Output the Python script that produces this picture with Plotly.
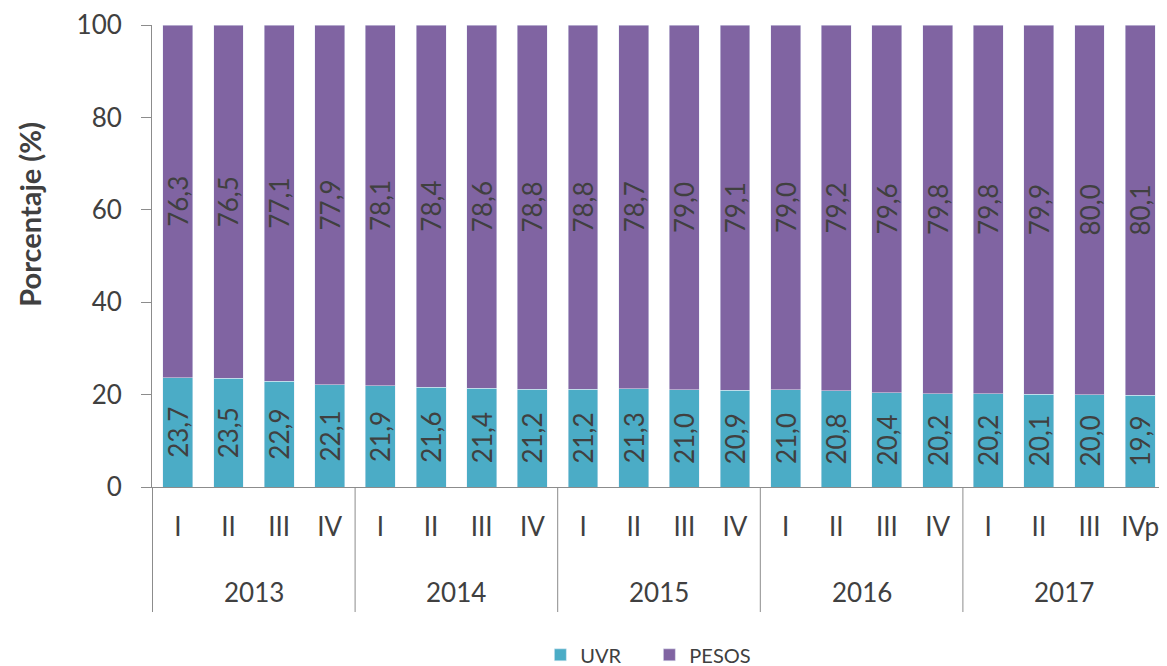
import plotly.graph_objects as go

years = ["2013", "2014", "2015", "2016", "2017"]
quarters = ["I", "II", "III", "IV", "I", "II", "III", "IV", "I", "II", "III", "IV",
            "I", "II", "III", "IV", "I", "II", "III", "IVp"]
categories = [f"{years[i // 4]}-{q}" for i, q in enumerate(quarters)]
uvr = [23.7, 23.5, 22.9, 22.1, 21.9, 21.6, 21.4, 21.2, 21.2, 21.3, 21.0, 20.9,
       21.0, 20.8, 20.4, 20.2, 20.2, 20.1, 20.0, 19.9]
pesos = [76.3, 76.5, 77.1, 77.9, 78.1, 78.4, 78.6, 78.8, 78.8, 78.7, 79.0, 79.1,
         79.0, 79.2, 79.6, 79.8, 79.8, 79.9, 80.0, 80.1]

FONT = "Lato"
TXT = "#404040"
AX = "#8C8C8C"

fig = go.Figure()
fig.add_trace(go.Bar(x=categories, y=uvr, name="UVR", marker_color="#4BACC6",
                     texttemplate="%{y:.1f}", textposition="inside",
                     insidetextanchor="middle", textangle=-90, constraintext="none",
                     textfont=dict(family=FONT, size=26, color=TXT)))
fig.add_trace(go.Bar(x=categories, y=pesos, name="PESOS", marker_color="#8064A2",
                     texttemplate="%{y:.1f}", textposition="inside",
                     insidetextanchor="middle", textangle=-90, constraintext="none",
                     textfont=dict(family=FONT, size=26, color=TXT)))

shapes = []
for b in [-0.5, 3.5, 7.5, 11.5, 15.5, 19.5]:
    shapes.append(dict(type="line", xref="x", yref="paper", x0=b, x1=b, y0=0, y1=-0.2706,
                       line=dict(color=AX, width=1)))

annotations = []
for i, yr in enumerate(years):
    annotations.append(dict(xref="x", yref="paper", x=i * 4 + 1.5, y=-0.227,
                            text=yr, showarrow=False, yanchor="middle",
                            font=dict(family=FONT, size=26, color=TXT)))
annotations.append(dict(xref="paper", yref="paper", x=-0.121, y=0.59,
                        text="<b>Porcentaje (%)</b>", showarrow=False, textangle=-90,
                        xanchor="center", yanchor="middle",
                        font=dict(family=FONT, size=29, color=TXT)))

fig.update_layout(
    barmode="stack", bargap=0.41, separators=",.",
    width=1159, height=658,
    margin=dict(l=144, r=1, t=17, b=179),
    paper_bgcolor="white", plot_bgcolor="white",
    font=dict(family=FONT, color=TXT),
    shapes=shapes, annotations=annotations,
    legend=dict(orientation="h", traceorder="normal", x=0.383, xanchor="left",
                entrywidth=64, entrywidthmode="pixels",
                yref="container", y=0.017, yanchor="middle",
                font=dict(family=FONT, size=20, color=TXT)),
    xaxis=dict(tickmode="array", tickvals=categories, ticktext=quarters,
               showline=True, linecolor=AX, linewidth=1, ticks="", showgrid=False,
               ticklabelstandoff=17, tickfont=dict(family=FONT, size=26, color=TXT)),
    yaxis=dict(range=[0, 100], tickvals=[0, 20, 40, 60, 80, 100], showline=True,
               linecolor=AX, linewidth=1, ticks="outside", ticklen=10, tickcolor=AX,
               showgrid=False, zeroline=False, ticklabelstandoff=14,
               tickfont=dict(family=FONT, size=26, color=TXT)),
)

fig.write_html("out.html")
